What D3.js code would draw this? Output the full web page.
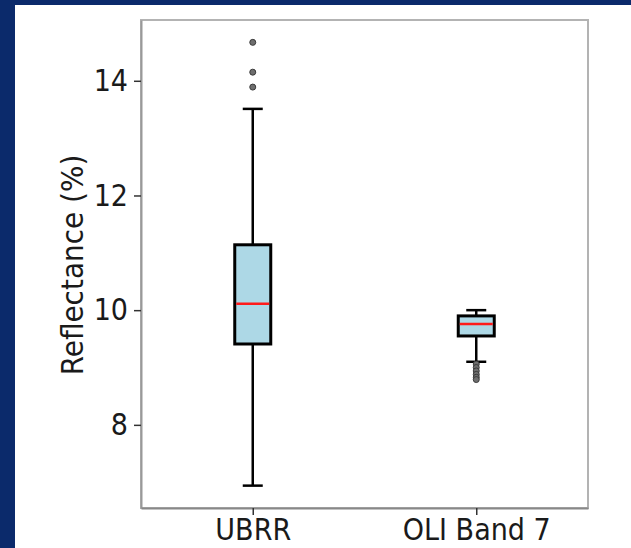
<!DOCTYPE html>
<html>
<head>
<meta charset="utf-8">
<script src="https://cdn.jsdelivr.net/npm/d3@7"></script>
<style>
  html, body { margin: 0; padding: 0; background: #0b2a6b; }
  svg { display: block; }
  text { font-family: "DejaVu Sans Condensed", "DejaVu Sans", sans-serif; font-stretch: condensed; fill: #1a1a1a; }
</style>
</head>
<body>
<script>
const categories = ['UBRR', 'OLI Band 7'];
const whisker_low = [6.94, 9.10];
const q1 = [9.41, 9.55];
const median = [10.11, 9.76];
const q3 = [11.14, 9.90];
const whisker_high = [13.51, 10.00];
const outliers = [
    [13.89, 14.15, 14.67],
    [9.06, 9.00, 8.94, 8.88, 8.83, 8.79]
];
const y_ticks = [8, 10, 12, 14];
const y_label = 'Reflectance (%)';

const width = 631, height = 548;
const plot = { left: 141, right: 588, top: 20, bottom: 508 };
const box_w = 36, cap_w = 20;

const svg = d3.select('body').append('svg')
    .attr('width', width)
    .attr('height', height);

// white panel on the navy slide
svg.append('rect')
    .attr('x', 15).attr('y', 5)
    .attr('width', width - 15).attr('height', height - 5)
    .attr('fill', '#fff');

const x = d3.scalePoint()
    .domain(categories)
    .range([plot.left, plot.right])
    .padding(0.5);

const y = d3.scaleLinear()
    .domain([6.55, 15.06])
    .range([plot.bottom, plot.top]);

// frame
svg.append('rect')
    .attr('x', plot.left).attr('y', plot.top)
    .attr('width', plot.right - plot.left)
    .attr('height', plot.bottom - plot.top)
    .attr('fill', 'none')
    .attr('stroke', '#b3b3b3')
    .attr('stroke-width', 2);

// y axis
const y_axis = svg.append('g')
    .attr('transform', `translate(${plot.left},0)`)
    .call(d3.axisLeft(y).tickValues(y_ticks).tickSize(7).tickSizeOuter(0).tickPadding(6).tickFormat(d3.format('d')));
y_axis.select('.domain').attr('stroke', '#999').attr('stroke-width', 2);
y_axis.selectAll('.tick line').attr('stroke', '#333').attr('stroke-width', 1.5);
y_axis.selectAll('.tick text')
    .style('font-size', '30px')
    .attr('fill', '#1a1a1a');

// x axis
const x_axis = svg.append('g')
    .attr('transform', `translate(0,${plot.bottom})`)
    .call(d3.axisBottom(x).tickSize(7).tickSizeOuter(0).tickPadding(3.5));
x_axis.select('.domain').attr('stroke', '#888').attr('stroke-width', 2);
x_axis.selectAll('.tick line').attr('stroke', '#333').attr('stroke-width', 1.5);
x_axis.selectAll('.tick text')
    .style('font-size', '30px')
    .attr('fill', '#1a1a1a');

svg.append('text')
    .attr('transform', `translate(83,265) rotate(-90)`)
    .attr('text-anchor', 'middle')
    .style('font-size', '31px')
    .text(y_label);

// boxes
const boxes = svg.selectAll('.box')
    .data(categories.map((c, i) => ({
        name: c, lo: whisker_low[i], q1: q1[i], med: median[i], q3: q3[i], hi: whisker_high[i], out: outliers[i]
    })))
    .enter()
    .append('g')
        .attr('class', 'box')
        .attr('transform', (d) => `translate(${x(d.name)},0)`);

boxes.append('line')
    .attr('y1', (d) => y(d.lo)).attr('y2', (d) => y(d.q1))
    .attr('stroke', '#000').attr('stroke-width', 2.5);
boxes.append('line')
    .attr('y1', (d) => y(d.q3)).attr('y2', (d) => y(d.hi))
    .attr('stroke', '#000').attr('stroke-width', 2.5);

boxes.selectAll('.cap')
    .data((d) => [d.lo, d.hi])
    .enter()
    .append('line')
        .attr('class', 'cap')
        .attr('x1', -cap_w / 2).attr('x2', cap_w / 2)
        .attr('y1', (v) => y(v)).attr('y2', (v) => y(v))
        .attr('stroke', '#000').attr('stroke-width', 2.5);

boxes.append('rect')
    .attr('x', -box_w / 2)
    .attr('y', (d) => y(d.q3))
    .attr('width', box_w)
    .attr('height', (d) => y(d.q1) - y(d.q3))
    .attr('fill', '#add8e6')
    .attr('stroke', '#000')
    .attr('stroke-width', 3);

boxes.append('line')
    .attr('x1', -box_w / 2 + 1.5).attr('x2', box_w / 2 - 1.5)
    .attr('y1', (d) => y(d.med)).attr('y2', (d) => y(d.med))
    .attr('stroke', '#ff1a1a').attr('stroke-width', 2.5);

boxes.selectAll('.flier')
    .data((d) => d.out)
    .enter()
    .append('circle')
        .attr('class', 'flier')
        .attr('cy', (v) => y(v))
        .attr('r', 3)
        .attr('fill', '#6e6e6e')
        .attr('stroke', '#3a3a3a')
        .attr('stroke-width', 1);
</script>
</body>
</html>
